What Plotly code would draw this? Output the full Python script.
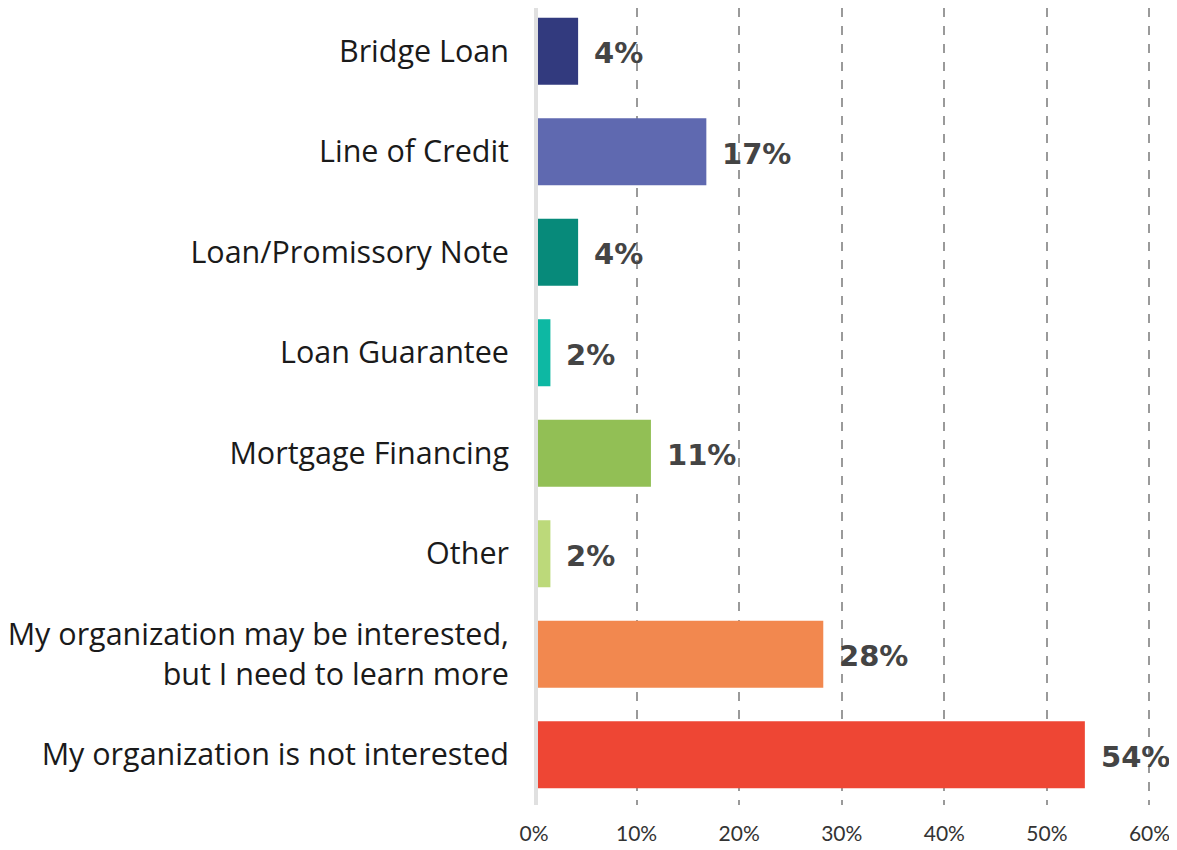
import plotly.graph_objects as go

categories = ["Bridge Loan", "Line of Credit", "Loan/Promissory Note", "Loan Guarantee",
              "Mortgage Financing", "Other",
              "My organization may be interested,<br>but I need to learn more",
              "My organization is not interested"]
values = [4.3, 16.8, 4.3, 1.6, 11.4, 1.6, 28.2, 53.7]
labels = ["4%", "17%", "4%", "2%", "11%", "2%", "28%", "54%"]
colors = ["#323a7e", "#5f69b0", "#078a7a", "#0db8a3", "#92bf55", "#bcd97a", "#f2884f", "#ee4634"]
tick_vals = [0, 10, 20, 30, 40, 50, 60]
tick_text = ["0%", "10%", "20%", "30%", "40%", "50%", "60%"]

fig = go.Figure(go.Bar(
    x=values, y=list(range(len(categories))), orientation="h",
    marker=dict(color=colors, line=dict(width=0)),
    cliponaxis=False,
))

for i, (v, lab) in enumerate(zip(values, labels)):
    fig.add_annotation(x=v, y=i, text=lab, showarrow=False, xanchor="left",
                       xshift=14, yshift=-2,
                       font=dict(family="DejaVu Sans", size=29, color="#444444", weight=700))

fig.update_layout(
    width=1177, height=850,
    margin=dict(l=526, r=15, t=0, b=53, autoexpand=False),
    plot_bgcolor="white", paper_bgcolor="white",
    bargap=0.333,
    showlegend=False,
    xaxis=dict(range=[0, 62], tickvals=tick_vals, ticktext=tick_text, automargin=False,
               showgrid=True, gridcolor="#9a9a9a", griddash="dash", gridwidth=1.5,
               zeroline=False, showline=False, ticks="",
               tickfont=dict(family="Lato", size=21, color="#333333"),
               ticklabelstandoff=14),
    yaxis=dict(range=[7.5, -0.43], showgrid=False, zeroline=False, showline=False,
               tickvals=list(range(len(categories))), ticktext=categories,
               ticks="", ticklabelstandoff=24, automargin=False,
               tickfont=dict(family="Open Sans", size=30.5, color="#1a1a1a")),
)
fig.add_shape(type="line", xref="x", yref="paper", x0=0, x1=0, y0=0, y1=1,
              line=dict(color="#e0e0e0", width=8), layer="above")

fig.write_html("out.html")
